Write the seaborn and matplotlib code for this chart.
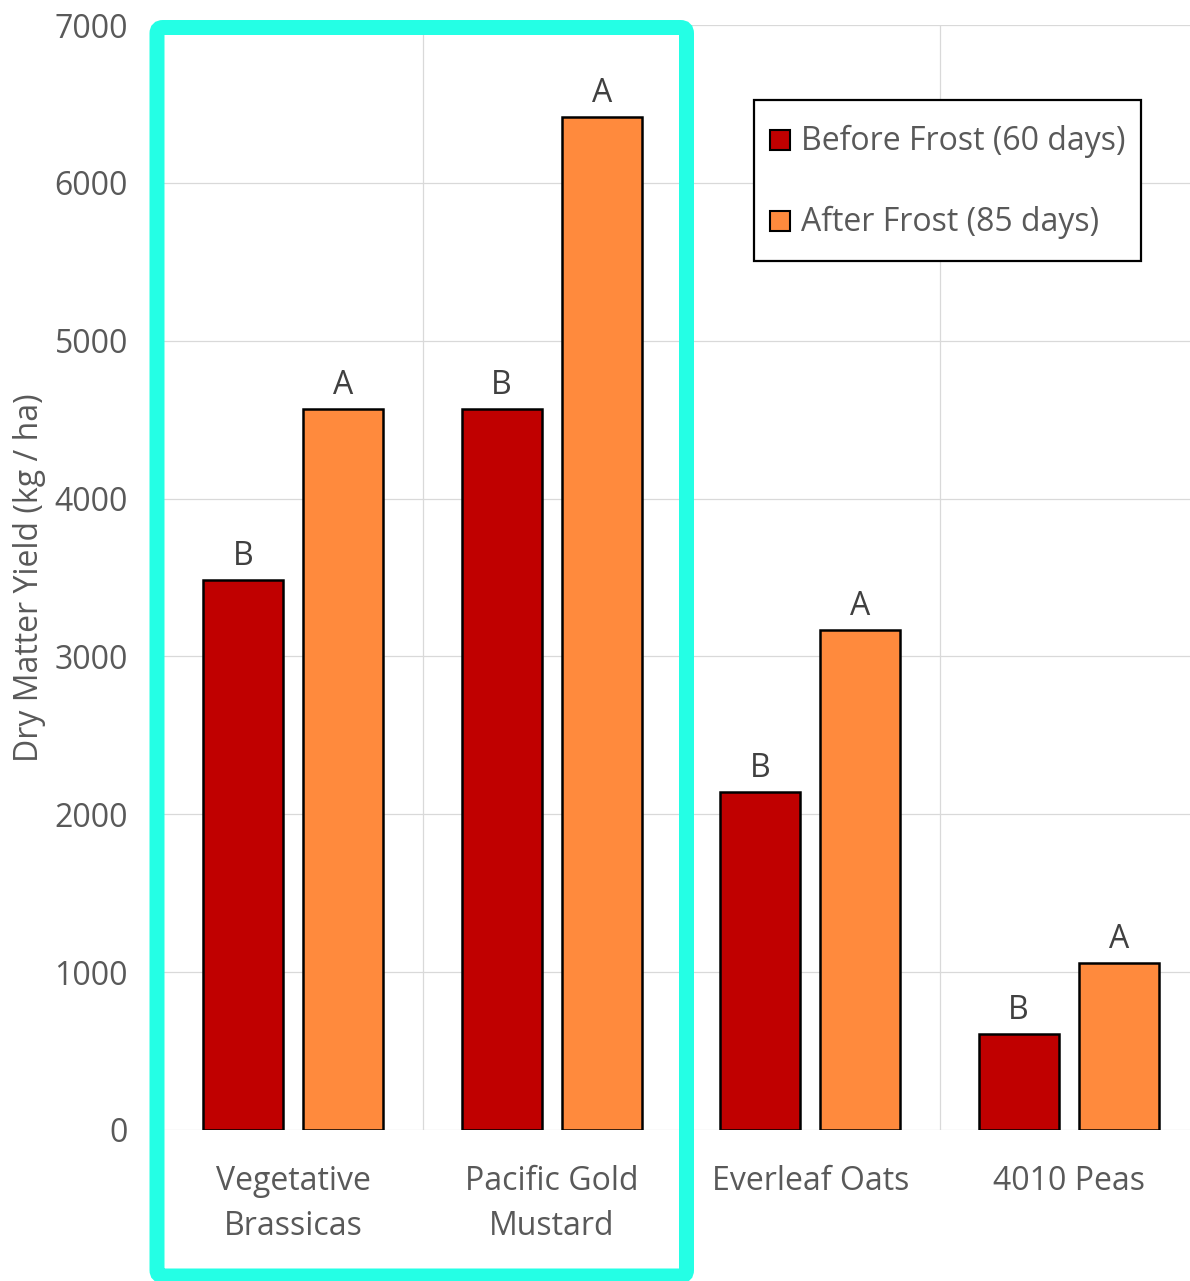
import matplotlib
matplotlib.use("Agg")
import matplotlib.pyplot as plt
from matplotlib.patches import FancyBboxPatch, Rectangle
from matplotlib.legend_handler import HandlerPatch
from matplotlib.transforms import IdentityTransform
import pandas as pd
import seaborn as sns

# Dry matter yield by cover crop, before and after frost
crops = ["Vegetative\nBrassicas", "Pacific Gold\nMustard", "Everleaf Oats", "4010 Peas"]
periods = ["Before Frost (60 days)", "After Frost (85 days)"]
before_frost = [3485, 4565, 2141, 608]
after_frost = [4568, 6418, 3168, 1058]
letters_before = ["B", "B", "B", "B"]
letters_after = ["A", "A", "A", "A"]
colors = ["#C00000", "#FF8A3D"]
y_ticks = [0, 1000, 2000, 3000, 4000, 5000, 6000, 7000]

df = pd.DataFrame({
    "crop": crops * 2,
    "period": [periods[0]] * len(crops) + [periods[1]] * len(crops),
    "yield": before_frost + after_frost,
})

sns.set_theme(style="white")
plt.rcParams["font.family"] = ["Open Sans", "DejaVu Sans"]

W, H = 1190, 1281
fig = plt.figure(figsize=(W / 100, H / 100), dpi=100)
ax = fig.add_axes([164 / W, 1 - 1130 / H, (1198 - 164) / W, (1130 - 25) / H])

sns.barplot(data=df, x="crop", y="yield", hue="period", order=crops,
            hue_order=periods, palette=colors, saturation=1, edgecolor="black",
            linewidth=1.8, width=0.775, gap=0.2, ax=ax, legend=True, zorder=3)

text_grey = "#595959"
ax.set_ylim(0, 7000)
ax.set_xlim(-0.5, 3.5)
ax.set_yticks(y_ticks)
ax.set_yticklabels([str(t) for t in y_ticks], fontsize=23, color=text_grey)
ax.set_xticks(range(len(crops)))
ax.set_xticklabels(crops, fontsize=23, color=text_grey, linespacing=1.5)
ax.tick_params(axis="y", length=0, pad=26)
ax.tick_params(axis="x", length=0, pad=25)
ax.set_xticks([0.5, 1.5, 2.5], minor=True)
ax.tick_params(axis="x", which="minor", length=0)
ax.grid(axis="y", which="major", color="#D9D9D9", linewidth=0.9, zorder=0)
ax.grid(axis="x", which="minor", color="#D9D9D9", linewidth=0.9, zorder=0)
ax.grid(axis="x", which="major", visible=False)
for s in ax.spines.values():
    s.set_visible(False)
ax.set_xlabel("")
ax.set_ylabel("Dry Matter Yield (kg / ha)", fontsize=23, color=text_grey)
ax.yaxis.set_label_coords((46 - 164) / (1198 - 164), 0.5)

# Significance letters above each bar
for cont, labels in zip(ax.containers, [letters_before, letters_after]):
    ax.bar_label(cont, labels=labels, padding=5, fontsize=23, color="#404040")


def square_patch(legend, orig_handle, xdescent, ydescent, width, height, fontsize):
    # small square swatch centred in a taller handle box
    return Rectangle((-xdescent, -ydescent + (height - width) / 2), width, width)


leg = ax.get_legend()
leg.remove()
handles = [Rectangle((0, 0), 1, 1, facecolor=c, edgecolor="black", linewidth=1.5)
           for c in colors]
fig.legend(handles, periods, loc="upper left",
           bbox_to_anchor=(754 / W, 1 - 100 / H), borderaxespad=0,
           fontsize=23, labelcolor=text_grey, frameon=True, fancybox=False,
           edgecolor="black", framealpha=1, handlelength=0.62, handleheight=1.93,
           handletextpad=0.35, labelspacing=1.03, borderpad=0.5,
           handler_map={Rectangle: HandlerPatch(patch_func=square_patch)})
fig.legends[0].get_frame().set_linewidth(1.6)

# Highlight box around the brassica group
box = FancyBboxPatch((157, H - 1276), 686.5 - 157, 1276 - 27.5,
                     boxstyle="round,pad=0,rounding_size=6",
                     transform=IdentityTransform(), fill=False,
                     edgecolor="#24FFE5", linewidth=15 * 0.72, zorder=10)
fig.patches.append(box)

fig.savefig("out.png", dpi=100)
